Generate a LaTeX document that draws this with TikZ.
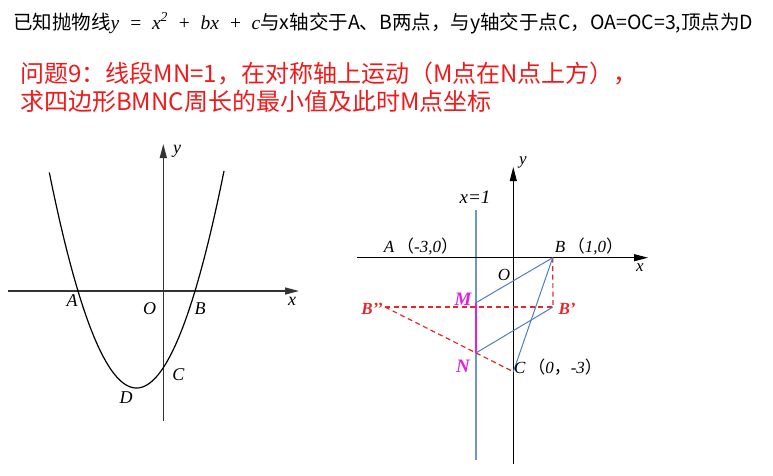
\documentclass[tikz,border=0pt]{standalone}
\usepackage{fontspec}
\setmainfont{Liberation Serif}
\newfontfamily\cjk{Noto Sans CJK SC}
\usetikzlibrary{arrows.meta}
\definecolor{axisblue}{HTML}{6F95CC}
\definecolor{segblue}{HTML}{4F7DBF}
\definecolor{dashred}{HTML}{E8262A}
\definecolor{titlered}{HTML}{F01A1A}
\definecolor{mag}{HTML}{E020E0}
\definecolor{axisgrey}{HTML}{333333}
\tikzset{
  axisL/.style={line width=1.3pt, draw=axisgrey, -{Triangle[length=14pt,width=7pt]}},
  axisR/.style={line width=1pt, draw=black, -{Triangle[length=14pt,width=7pt]}},
  lbl/.style={inner sep=0, font=\fontsize{18}{18}\selectfont\itshape},
  rlbl/.style={inner sep=0, font=\fontsize{17}{17}\selectfont\itshape},
  redlbl/.style={inner sep=0, text=dashred, font=\fontsize{17}{17}\selectfont\bfseries\itshape},
  maglbl/.style={inner sep=0, text=mag, font=\fontsize{19}{19}\selectfont\bfseries\itshape},
  reddash/.style={draw=dashred, line width=1.2pt, dash pattern=on 5pt off 3.5pt},
  seg/.style={draw=segblue, line width=1pt},
}
\begin{document}
\begin{tikzpicture}[x=1pt,y=-1pt]
\useasboundingbox (0,0) rectangle (773,475);
% ---------- titles ----------
\node[anchor=west, inner sep=0, font=\cjk\fontsize{19.5}{19.5}\selectfont] (t1) at (13,23)
  {已知抛物线{\rmfamily\itshape y~~=~~x\textsuperscript{2}~~+~~bx~~+~~c}与x轴交于A、B两点，与y轴交于点C，OA=OC=3,顶点为D};
\node[anchor=west, inner sep=0, text=titlered, font=\cjk\fontsize{24}{24}\selectfont] (t2) at (20,74)
  {问题9：线段MN=1，在对称轴上运动（M点在N点上方），};
\node[anchor=west, inner sep=0, text=titlered, font=\cjk\fontsize{24}{24}\selectfont] (t3) at (20,101)
  {求四边形BMNC周长的最小值及此时M点坐标};
% ---------- left diagram ----------
\coordinate (xl1) at (8,291);
\coordinate (xr1) at (299,291);
\coordinate (yb1) at (163.3,421);
\coordinate (yt1) at (163.3,144);
\draw[axisL] (xl1) -- (xr1);
\draw[axisL] (yb1) -- (yt1);
\draw[line width=1.2pt, black] plot[domain=49.3:224, samples=120, smooth]
  (\x, {291 + 97*(1-((\x-136.5)/58.5)^2)});
\node[lbl] (ly1) at (177,151) {y};
\node[lbl] (lx1) at (292,301) {x};
\node[lbl] (lA1) at (72,301) {A};
\node[lbl] (lO1) at (149.5,309) {O};
\node[lbl] (lB1) at (200,309) {B};
\node[lbl] (lC1) at (178.5,375) {C};
\node[lbl] (lD1) at (126,398) {D};
% ---------- right diagram ----------
\coordinate (xl2) at (357,257.7);
\coordinate (xr2) at (648,257.7);
\coordinate (yb2) at (513.3,464);
\coordinate (yt2) at (513.3,167);
\coordinate (Lt) at (476,210);
\coordinate (Lb) at (476,460);
\coordinate (B) at (552.7,257.7);
\coordinate (Bp) at (553,307);
\coordinate (Bpp) at (385,307);
\coordinate (M) at (476,302.7);
\coordinate (N) at (476,352.9);
\coordinate (C) at (513.3,371.7);
\draw[draw=axisblue, line width=1.2pt] (Lt) -- (Lb);
\draw[axisR] (xl2) -- (xr2);
\draw[axisR] (yb2) -- (yt2);
\draw[reddash] (B) -- (Bp);
\draw[reddash] (Bpp) -- (Bp);
\draw[reddash] (Bpp) -- (N) -- (C);
\draw[seg] (B) -- (M);
\draw[seg] (B) -- (C);
\draw[seg] (Bp) -- (N);
\draw[draw=mag, line width=2pt] (M) -- (N);
\node[rlbl] (ly2) at (523,162) {y};
\node[rlbl] (lx2) at (640,268) {x};
\node[rlbl, font=\fontsize{19}{19}\selectfont\itshape] (lx1eq) at (475,197) {x=1};
\node[rlbl] (lA2) at (421,247) {A\,{\cjk （}-3,0{\cjk ）}};
\node[rlbl] (lB2) at (589,247) {B\,{\cjk （}1,0{\cjk ）}};
\node[rlbl] (lO2) at (504,275) {O};
\node[maglbl] (lM) at (463,299) {M};
\node[maglbl] (lN) at (463,366) {N};
\node[redlbl] (lBpp) at (372,309) {B’’};
\node[redlbl] (lBp) at (567,309) {B’};
\node[rlbl] (lC2) at (558,367) {C\,{\cjk （}0{\cjk ，}-3{\cjk ）}};
\end{tikzpicture}
\end{document}
